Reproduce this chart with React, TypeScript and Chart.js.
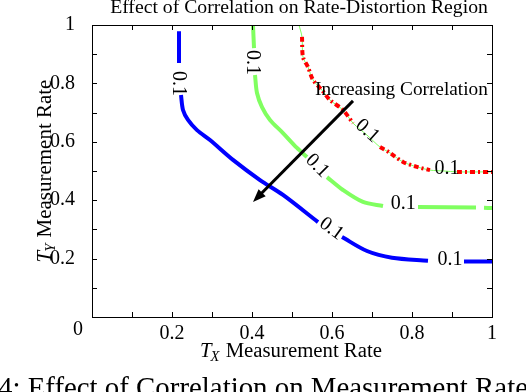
import React, { useEffect, useRef } from 'react';
import { Chart, registerables } from 'chart.js';

Chart.register(...registerables);

const SERIF = '"Liberation Serif", "Times New Roman", serif';

const titleText = 'Effect of Correlation on Rate-Distortion Region';
const captionText = '4: Effect of Correlation on Measurement Rate';
const arrowText = 'Increasing Correlation';
const contourLabel = '0.1';
const axisWord = ' Measurement Rate';

// Blue contour, null = label gap
const blueX = [0.2175, 0.2175, 0.22, 0.2225, 0.2275, 0.24, 0.2625, 0.295, 0.3525, 0.42, 0.4775, 0.565, 0.595, 0.625, 0.6875, 0.75, 0.84, 0.885, 0.93, 1.0];
const blueY = [0.979, 0.87, null, 0.76, 0.709, 0.675, 0.64, 0.606, 0.538, 0.469, 0.418, 0.325, null, 0.274, 0.226, 0.203, 0.193, null, 0.19, 0.19];

// Green contour
const greenX = [0.4025, 0.405, 0.406, 0.4075, 0.4125, 0.425, 0.445, 0.4775, 0.5125, 0.5375, 0.56, 0.5875, 0.6275, 0.6775, 0.7275, 0.77, 0.815, 0.96, 0.97, 0.98, 1.0];
const greenY = [1.0, 0.921, null, 0.829, 0.767, 0.719, 0.675, 0.63, 0.579, 0.548, null, 0.479, 0.435, 0.394, 0.38, null, 0.377, 0.375, null, 0.374, 0.373];

// Red contour (dash-dot) drawn over a thin green guide
const redX = [0.5175, 0.525, 0.5275, 0.54, 0.5525, 0.575, 0.595, 0.6275, 0.6525, 0.69, 0.72, 0.745, 0.7775, 0.8125, 0.845, 0.88, 0.9125, 1.0];
const redGuideY = [1.0, 0.959, 0.89, 0.856, 0.812, 0.777, 0.743, 0.709, 0.664, 0.62, 0.582, 0.562, 0.531, 0.514, 0.503, 0.5, 0.497, 0.497];
const redY = [null, 0.959, 0.89, 0.856, 0.812, 0.777, 0.743, 0.709, 0.664, null, 0.582, 0.562, 0.531, 0.514, 0.503, null, 0.497, 0.497];

// Contour labels "0.1"
const labelX = [0.2175, 0.4025, 0.565, 0.69, 0.6, 0.8875, 0.778, 0.895];
const labelY = [0.8, 0.872, 0.52, 0.64, 0.305, 0.51, 0.39, 0.199];
const labelAngle = [90, 90, 45, 42, 36, 0, 0, 0];

// Arrow
const arrowFrom = [0.6525, 0.74];
const arrowTo = [0.4025, 0.394];
const arrowTextAt = [0.5575, 0.777];

const toPts = (xs: number[], ys: (number | null)[]) => xs.map((x, i) => ({ x, y: ys[i] }));

function fitSize(ctx: CanvasRenderingContext2D, text: string, width: number, style = '') {
  ctx.font = `${style} 20px ${SERIF}`;
  const w = ctx.measureText(text).width;
  return (20 * width) / w;
}

function drawAxisTitle(ctx: CanvasRenderingContext2D, sub: string, targetW: number, cx: number, cy: number, rot: number) {
  ctx.font = `italic 20px ${SERIF}`;
  const wT = ctx.measureText('T').width;
  ctx.font = `italic 14px ${SERIF}`;
  const wS = ctx.measureText(sub).width;
  ctx.font = `20px ${SERIF}`;
  const wR = ctx.measureText(axisWord).width;
  const s = (20 * targetW) / (wT + wS + wR);
  const k = s / 20;
  ctx.save();
  ctx.translate(cx, cy);
  ctx.rotate(rot);
  ctx.fillStyle = '#000';
  ctx.textBaseline = 'alphabetic';
  ctx.textAlign = 'left';
  let x0 = -targetW / 2;
  const base = s * 0.33;
  ctx.font = `italic ${s}px ${SERIF}`;
  ctx.fillText('T', x0, base);
  x0 += wT * k;
  ctx.font = `italic ${s * 0.7}px ${SERIF}`;
  ctx.fillText(sub, x0 - 1, base + s * 0.2);
  x0 += wS * k;
  ctx.font = `${s}px ${SERIF}`;
  ctx.fillText(axisWord, x0, base);
  ctx.restore();
}

const annotPlugin = {
  id: 'annot',
  afterDatasetsDraw(chart: any) {
    const { ctx, chartArea: ca, scales } = chart;
    const xs = scales.x;
    const ys = scales.y;
    ctx.save();
    ctx.strokeStyle = '#000';
    ctx.lineWidth = 1;
    ctx.strokeRect(Math.round(ca.left) + 0.5, Math.round(ca.top) + 0.5, Math.round(ca.right - ca.left), Math.round(ca.bottom - ca.top));
    ctx.beginPath();
    for (const t of xs.ticks) {
      const px = Math.round(xs.getPixelForValue(t.value)) + 0.5;
      ctx.moveTo(px, ca.bottom);
      ctx.lineTo(px, ca.bottom - 5);
      ctx.moveTo(px, ca.top);
      ctx.lineTo(px, ca.top + 5);
    }
    for (const t of ys.ticks) {
      const py = Math.round(ys.getPixelForValue(t.value)) + 0.5;
      ctx.moveTo(ca.left, py);
      ctx.lineTo(ca.left + 5, py);
      ctx.moveTo(ca.right, py);
      ctx.lineTo(ca.right - 5, py);
    }
    ctx.stroke();

    // corner "0"
    ctx.fillStyle = '#000';
    ctx.font = `20px ${SERIF}`;
    ctx.textAlign = 'center';
    ctx.textBaseline = 'middle';
    ctx.fillText('0', xs.getPixelForValue(0) - 14, ys.getPixelForValue(0) + 13);

    // contour labels
    ctx.font = `20px ${SERIF}`;
    for (let i = 0; i < labelX.length; i++) {
      ctx.save();
      ctx.translate(xs.getPixelForValue(labelX[i]), ys.getPixelForValue(labelY[i]));
      ctx.rotate((labelAngle[i] * Math.PI) / 180);
      ctx.textAlign = 'center';
      ctx.textBaseline = 'middle';
      ctx.fillText(contourLabel, 0, 1);
      ctx.restore();
    }

    // arrow
    const x1 = xs.getPixelForValue(arrowFrom[0]);
    const y1 = ys.getPixelForValue(arrowFrom[1]);
    const x2 = xs.getPixelForValue(arrowTo[0]);
    const y2 = ys.getPixelForValue(arrowTo[1]);
    const ang = Math.atan2(y2 - y1, x2 - x1);
    const hl = 13;
    const hw = 5;
    ctx.strokeStyle = '#000';
    ctx.lineWidth = 3;
    ctx.beginPath();
    ctx.moveTo(x1, y1);
    ctx.lineTo(x2 - Math.cos(ang) * hl * 0.8, y2 - Math.sin(ang) * hl * 0.8);
    ctx.stroke();
    ctx.beginPath();
    ctx.moveTo(x2, y2);
    ctx.lineTo(x2 - Math.cos(ang) * hl - Math.sin(ang) * hw, y2 - Math.sin(ang) * hl + Math.cos(ang) * hw);
    ctx.lineTo(x2 - Math.cos(ang) * hl + Math.sin(ang) * hw, y2 - Math.sin(ang) * hl - Math.cos(ang) * hw);
    ctx.closePath();
    ctx.fill();

    const aS = fitSize(ctx, arrowText, 173);
    ctx.font = `${aS}px ${SERIF}`;
    ctx.textAlign = 'left';
    ctx.textBaseline = 'middle';
    ctx.fillText(arrowText, xs.getPixelForValue(arrowTextAt[0]), ys.getPixelForValue(arrowTextAt[1]));

    const tS = fitSize(ctx, titleText, 378);
    ctx.font = `${tS}px ${SERIF}`;
    ctx.textAlign = 'center';
    ctx.textBaseline = 'alphabetic';
    ctx.fillText(titleText, (ca.left + ca.right) / 2 + 7, 13);

    drawAxisTitle(ctx, 'X', 182, (ca.left + ca.right) / 2 - 1, 350, 0);
    drawAxisTitle(ctx, 'Y', 183, 44, (ca.top + ca.bottom) / 2, -Math.PI / 2);

    const cS = fitSize(ctx, captionText, 530);
    ctx.font = `${cS}px ${SERIF}`;
    ctx.textAlign = 'left';
    ctx.textBaseline = 'alphabetic';
    ctx.fillText(captionText, -2, 397);

    ctx.restore();
  },
};

const tickCb = (v: number | string) => {
  const n = Number(v);
  const k = Math.round(n * 10);
  if (k === 0 || k % 2 !== 0) return '';
  return k === 10 ? '1' : (k / 10).toFixed(1);
};

export default function App() {
  const ref = useRef<HTMLCanvasElement | null>(null);
  useEffect(() => {
    if (!ref.current) return;
    const chart = new Chart(ref.current, {
      type: 'scatter',
      data: {
        datasets: [
          {
            data: toPts(redX, redY) as any,
            showLine: true,
            borderColor: '#ff0000',
            borderWidth: 4,
            borderDash: [5, 3, 2, 3],
            pointRadius: 0,
            tension: 0.3,
            spanGaps: false,
          },
          {
            data: toPts(redX, redGuideY) as any,
            showLine: true,
            borderColor: '#80ff60',
            borderWidth: 1,
            pointRadius: 0,
            tension: 0.3,
          },
          {
            data: toPts(blueX, blueY) as any,
            showLine: true,
            borderColor: '#0000ff',
            borderWidth: 4,
            pointRadius: 0,
            tension: 0.3,
            spanGaps: false,
          },
          {
            data: toPts(greenX, greenY) as any,
            showLine: true,
            borderColor: '#80ff60',
            borderWidth: 4,
            pointRadius: 0,
            tension: 0.3,
            spanGaps: false,
          },
        ],
      },
      options: {
        animation: false,
        responsive: false,
        devicePixelRatio: 1,
        layout: { padding: { top: 25, right: 34, left: 0, bottom: 0 } },
        plugins: { legend: { display: false }, tooltip: { enabled: false }, title: { display: false } },
        scales: {
          x: {
            type: 'linear',
            min: 0,
            max: 1,
            grid: { display: false },
            border: { display: false },
            ticks: {
              stepSize: 0.1,
              autoSkip: false,
              maxRotation: 0,
              padding: -3,
              color: '#000',
              font: { family: SERIF, size: 20 },
              callback: tickCb,
            },
            afterFit: (s: any) => {
              s.height = 75;
            },
          },
          y: {
            type: 'linear',
            min: 0,
            max: 1,
            grid: { display: false },
            border: { display: false },
            ticks: {
              stepSize: 0.1,
              autoSkip: false,
              padding: 9,
              color: '#000',
              font: { family: SERIF, size: 20 },
              callback: tickCb,
            },
            afterFit: (s: any) => {
              s.width = 92;
            },
          },
        },
      },
      plugins: [annotPlugin],
    });
    return () => chart.destroy();
  }, []);
  return (
    <div style={{ position: 'absolute', left: 0, top: 0, width: 526, height: 392, background: '#fff' }}>
      <canvas ref={ref} width={526} height={392} style={{ display: 'block' }} />
    </div>
  );
}
